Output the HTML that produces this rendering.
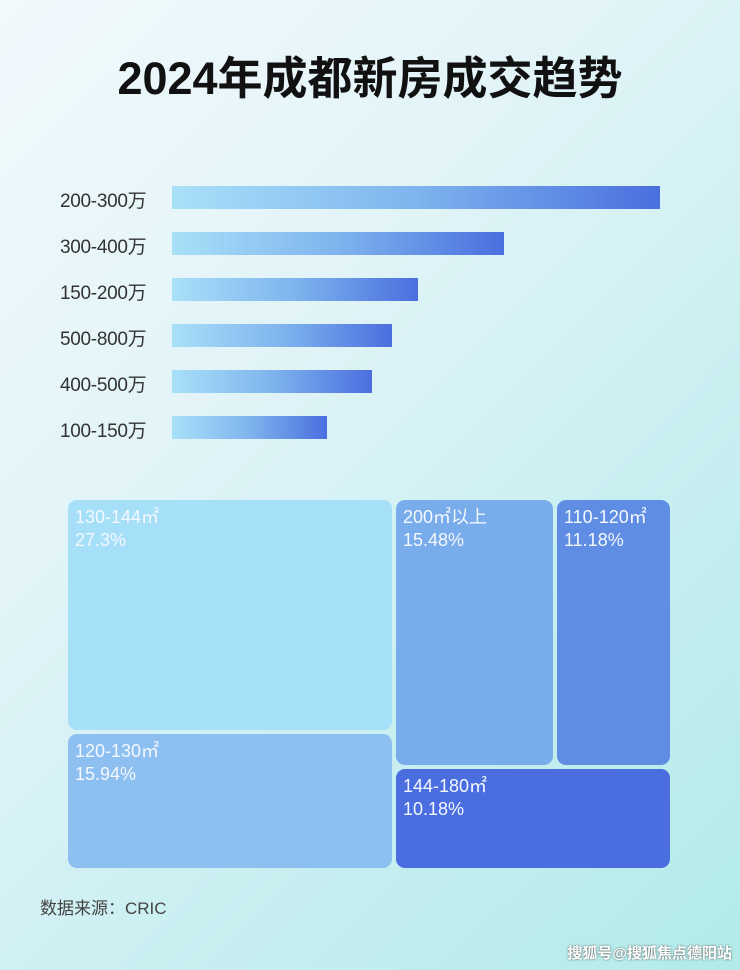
<!DOCTYPE html>
<html><head><meta charset="utf-8"><style>
body{margin:0;width:740px;height:970px;overflow:hidden;position:relative;
background:linear-gradient(135deg,#f1f9fc 0%,#e2f4f8 35%,#c6eef0 70%,#b2ebe9 100%);
font-family:"Liberation Sans","Noto Sans CJK SC",sans-serif;}
.t{position:absolute;left:0;width:740px;top:42px;text-align:center;font-size:45px;font-weight:bold;color:#111;}
.lab{position:absolute;left:60px;font-size:19px;color:#333;width:112px;letter-spacing:-0.3px;}
.bar{position:absolute;left:172px;height:23px;background:linear-gradient(90deg,#a9e0f8,#7fb4ee 50%,#4a6fdf);}
.b{position:absolute;border-radius:9px;color:#f4f8ff;font-size:18px;line-height:23px;padding:6px 0 0 7px;box-sizing:border-box;}
.src{position:absolute;left:40px;top:894px;font-size:17px;color:#444;}
.wm{position:absolute;right:8px;top:942px;font-size:15px;color:#fff;font-weight:bold;text-shadow:0 0 2px #555;}
</style></head><body>
<div class="t">2024年成都新房成交趋势</div>
<div class="lab" style="top:186px">200-300万</div><div class="bar" style="top:186px;width:488px"></div>
<div class="lab" style="top:232px">300-400万</div><div class="bar" style="top:232px;width:332px"></div>
<div class="lab" style="top:278px">150-200万</div><div class="bar" style="top:278px;width:246px"></div>
<div class="lab" style="top:324px">500-800万</div><div class="bar" style="top:324px;width:220px"></div>
<div class="lab" style="top:370px">400-500万</div><div class="bar" style="top:370px;width:200px"></div>
<div class="lab" style="top:416px">100-150万</div><div class="bar" style="top:416px;width:155px"></div>

<div class="b" style="left:68px;top:500px;width:324px;height:230px;background:#a6dff8">130-144㎡<br>27.3%</div>
<div class="b" style="left:68px;top:734px;width:324px;height:134px;background:#8dc0f0">120-130㎡<br>15.94%</div>
<div class="b" style="left:396px;top:500px;width:157px;height:265px;background:#79aceb">200㎡以上<br>15.48%</div>
<div class="b" style="left:557px;top:500px;width:113px;height:265px;background:#5f8de3">110-120㎡<br>11.18%</div>
<div class="b" style="left:396px;top:769px;width:274px;height:99px;background:#4a6ee0">144-180㎡<br>10.18%</div>

<div class="src">数据来源：CRIC</div>
<div class="wm">搜狐号@搜狐焦点德阳站</div>
</body></html>
